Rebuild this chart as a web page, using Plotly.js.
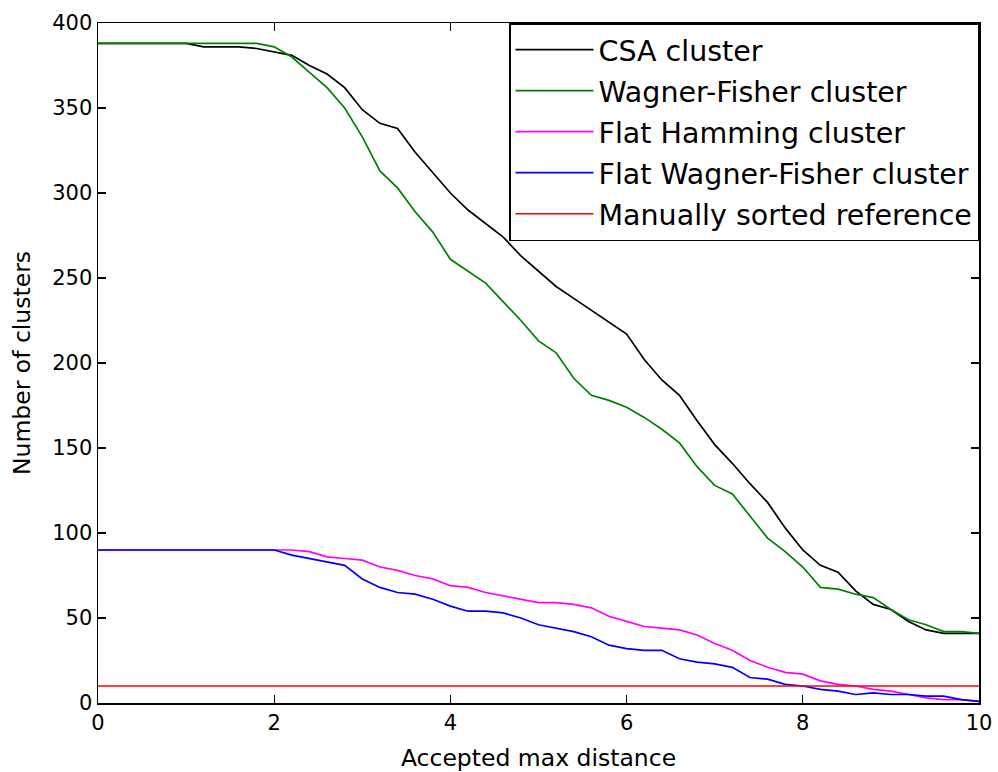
<!DOCTYPE html>
<html>
<head>
<meta charset="utf-8">
<script src="https://cdn.plot.ly/plotly-3.0.1.min.js"></script>
<style>html,body{margin:0;padding:0;background:#fff;}#chart{width:998px;height:772px;}</style>
</head>
<body>
<div id="chart"></div>
<script>
const distance = [0,0.2,0.4,0.6,0.8,1.0,1.2,1.4,1.6,1.8,2.0,2.2,2.4,2.6,2.8,3.0,3.2,3.4,3.6,3.8,4.0,4.2,4.4,4.6,4.8,5.0,5.2,5.4,5.6,5.8,6.0,6.2,6.4,6.6,6.8,7.0,7.2,7.4,7.6,7.8,8.0,8.2,8.4,8.6,8.8,9.0,9.2,9.4,9.6,9.8,10.0];
const csaCluster = [388,388,388,388,388,388,386,386,386,385, 383,381,375,370,362, 349,341,338,324,312, 300,290,282,274,263, 254,245,238,231,224, 217,202,190,181,166, 152,141,129,118,103, 90,81,77,66,58, 55,48,43,41,41, 41];
const wagnerFisher = [388,388,388,388,388,388,388,388,388,388, 386,380,371,362,350, 333,313,303,289,277, 261,254,247,236,225, 213,206,191,181,178, 174,168,161,153,139, 128,123,110,97,89, 80,68,67,64,62, 55,49,46,42,42, 41];
const flatHamming = [90,90,90,90,90,90,90,90,90,90, 90,90,89,86,85, 84,80,78,75,73, 69,68,65,63,61, 59,59,58,56,51, 48,45,44,43,40, 35,31,25,21,18, 17,13,11,10,8, 7,5,3,2,2, 1];
const flatWagnerFisher = [90,90,90,90,90,90,90,90,90,90, 90,87,85,83,81, 73,68,65,64,61, 57,54,54,53,50, 46,44,42,39,34, 32,31,31,26,24, 23,21,15,14,11, 10,8,7,5,6, 5,5,4,4,2, 1];
const referenceX = [0,10];
const manualReference = [10,10];

const seriesNames = ["CSA cluster","Wagner-Fisher cluster","Flat Hamming cluster","Flat Wagner-Fisher cluster","Manually sorted reference"];
const xTicks = [0,2,4,6,8,10];
const yTicks = [0,50,100,150,200,250,300,350,400];

const font = "DejaVu Sans, Verdana, sans-serif";
const lw = 1.7;
function tr(x, y, name, color, g){
  return {x:x, y:y, name:name, type:'scatter', mode:'lines', legendgroup:g,
          line:{color:color, width:lw}, hoverinfo:'skip'};
}
const data = [
  tr(distance, csaCluster, seriesNames[0], '#000000', 'a'),
  tr(distance, wagnerFisher, seriesNames[1], '#008000', 'b'),
  tr(distance, flatHamming, seriesNames[2], '#ff00ff', 'c'),
  tr(distance, flatWagnerFisher, seriesNames[3], '#0000ff', 'd'),
  tr(referenceX, manualReference, seriesNames[4], '#ff0000', 'e')
];
const axisCommon = {
  showgrid:false, zeroline:false, showline:true, linecolor:'#000', linewidth:1.5,
  mirror:'ticks', ticks:'inside', ticklen:8, tickwidth:1.2, tickcolor:'#000',
  tickfont:{family:font, size:21, color:'#000'}
};
const layout = {
  width:998, height:772,
  margin:{l:98, r:19, t:23, b:69, pad:0},
  paper_bgcolor:'#fff', plot_bgcolor:'#fff',
  font:{family:font, color:'#000'},
  showlegend:true,
  legend:{x:1, y:1, xanchor:'right', yanchor:'top', bgcolor:'#fff',
          bordercolor:'#000', borderwidth:1.5, font:{family:font, size:28.5, color:'#000'},
          tracegroupgap:1, itemwidth:78, entrywidth:474, entrywidthmode:'pixels'},
  xaxis:Object.assign({}, axisCommon, {range:[0,10], tickvals:xTicks, ticktext:xTicks.map(String),
          title:{text:'Accepted max distance', font:{family:font, size:23.5, color:'#000'}, standoff:16}}),
  yaxis:Object.assign({}, axisCommon, {range:[0,400], tickvals:yTicks, ticktext:yTicks.map(String),
          title:{text:'Number of clusters', font:{family:font, size:23.5, color:'#000'}, standoff:15}})
};
Plotly.newPlot('chart', data, layout, {displayModeBar:false, staticPlot:true});
</script>
</body>
</html>
